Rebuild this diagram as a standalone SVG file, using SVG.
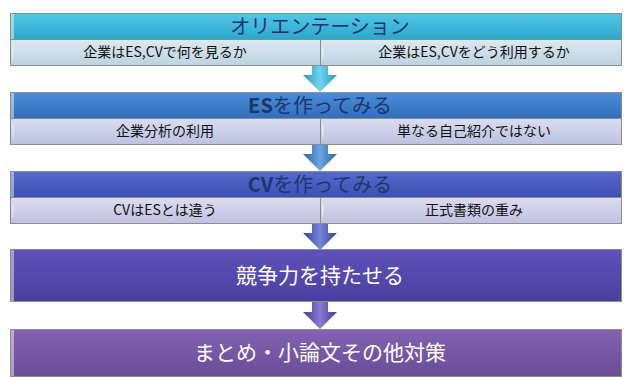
<svg xmlns="http://www.w3.org/2000/svg" width="624" height="378" viewBox="0 0 624 378">
<defs>
<linearGradient id="gCyan" x1="0" y1="0" x2="0" y2="1"><stop offset="0" stop-color="#52C8E6"/><stop offset="1" stop-color="#2BA6CC"/></linearGradient>
<linearGradient id="gBlue" x1="0" y1="0" x2="0" y2="1"><stop offset="0" stop-color="#4B8DD8"/><stop offset="1" stop-color="#316EBA"/></linearGradient>
<linearGradient id="gIndigo" x1="0" y1="0" x2="0" y2="1"><stop offset="0" stop-color="#5769CE"/><stop offset="1" stop-color="#3D4FB0"/></linearGradient>
<linearGradient id="gViolet" x1="0" y1="0" x2="0" y2="1"><stop offset="0" stop-color="#5E52BC"/><stop offset="1" stop-color="#4B3F9E"/></linearGradient>
<linearGradient id="gPurple" x1="0" y1="0" x2="0" y2="1"><stop offset="0" stop-color="#8462B2"/><stop offset="1" stop-color="#6A4C98"/></linearGradient>
<linearGradient id="gSub1" x1="0" y1="0" x2="0" y2="1"><stop offset="0" stop-color="#DCE9F0"/><stop offset="1" stop-color="#BCD3E0"/></linearGradient>
<linearGradient id="gSub2" x1="0" y1="0" x2="0" y2="1"><stop offset="0" stop-color="#DADDF0"/><stop offset="1" stop-color="#BCC1DF"/></linearGradient>
<linearGradient id="gSub3" x1="0" y1="0" x2="0" y2="1"><stop offset="0" stop-color="#DCDCF1"/><stop offset="1" stop-color="#C0C0E0"/></linearGradient>
<linearGradient id="aCyan" x1="0" y1="0" x2="1" y2="0"><stop offset="0" stop-color="#2A98BC"/><stop offset="0.5" stop-color="#6FD4EE"/><stop offset="1" stop-color="#2A98BC"/></linearGradient>
<linearGradient id="aBlue" x1="0" y1="0" x2="1" y2="0"><stop offset="0" stop-color="#2C64A8"/><stop offset="0.5" stop-color="#6AA4E2"/><stop offset="1" stop-color="#2C64A8"/></linearGradient>
<linearGradient id="aIndigo" x1="0" y1="0" x2="1" y2="0"><stop offset="0" stop-color="#3441A0"/><stop offset="0.5" stop-color="#7684DA"/><stop offset="1" stop-color="#3441A0"/></linearGradient>
<linearGradient id="aViolet" x1="0" y1="0" x2="1" y2="0"><stop offset="0" stop-color="#45378F"/><stop offset="0.5" stop-color="#8A7CD4"/><stop offset="1" stop-color="#45378F"/></linearGradient>
<path id="arrow" d="M-8,0 H8 V10 H17 L0,27 L-17,10 H-8 Z"/>
</defs>
<style>
.box{stroke:#8C8C8C;stroke-width:1}
.cell{stroke:#8C8C8C;stroke-width:1}
.hl{fill:#FFFFFF;opacity:0.45}
.ht{font-family:"Noto Sans CJK JP","Noto Sans",sans-serif;font-size:20px;fill:#1E3670;text-anchor:middle}
.st{font-family:"Noto Sans CJK JP","Noto Sans",sans-serif;font-size:14px;fill:#111111;text-anchor:middle}
.wt{font-family:"Noto Sans CJK JP","Noto Sans",sans-serif;font-size:21px;fill:#FFFFFF;text-anchor:middle}
.arr{stroke:none}
</style>
<rect width="624" height="378" fill="#FFFFFF"/>

<g id="connectors">
<use href="#arrow" x="320" y="65" fill="url(#aCyan)" class="arr"/>
<use href="#arrow" x="320" y="144" fill="url(#aBlue)" class="arr"/>
<use href="#arrow" x="320" y="223" fill="url(#aIndigo)" class="arr"/>
<use href="#arrow" x="320" y="302" fill="url(#aViolet)" class="arr"/>
</g>

<g id="node-orientation">
<rect class="box" x="10.5" y="13.5" width="611" height="26" fill="url(#gCyan)"/>
<rect class="hl" x="11" y="14" width="3" height="25"/>
<rect class="cell" x="10.5" y="39.5" width="310" height="26" fill="url(#gSub1)"/>
<rect class="cell" x="320.5" y="39.5" width="301" height="26" fill="url(#gSub1)"/>
<path class="hl" d="M12,43 Q16,52 12,61 Z"/>
<path class="hl" d="M322,43 Q326,52 322,61 Z"/>
<text class="ht" x="320" y="33.5">オリエンテーション</text>
<text class="st" x="165" y="57">企業はES,CVで何を見るか</text>
<text class="st" x="474" y="57">企業はES,CVをどう利用するか</text>
</g>

<g id="node-es">
<rect class="box" x="10.5" y="92.5" width="611" height="26" fill="url(#gBlue)"/>
<rect class="hl" x="11" y="93" width="3" height="25"/>
<rect class="cell" x="10.5" y="118.5" width="310" height="26" fill="url(#gSub2)"/>
<rect class="cell" x="320.5" y="118.5" width="301" height="26" fill="url(#gSub2)"/>
<path class="hl" d="M12,122 Q16,131 12,140 Z"/>
<path class="hl" d="M322,122 Q326,131 322,140 Z"/>
<text class="ht" x="320" y="112.5"><tspan font-weight="bold">ES</tspan>を作ってみる</text>
<text class="st" x="165" y="136">企業分析の利用</text>
<text class="st" x="474" y="136">単なる自己紹介ではない</text>
</g>

<g id="node-cv">
<rect class="box" x="10.5" y="171.5" width="611" height="26" fill="url(#gIndigo)"/>
<rect class="hl" x="11" y="172" width="3" height="25"/>
<rect class="cell" x="10.5" y="197.5" width="310" height="26" fill="url(#gSub3)"/>
<rect class="cell" x="320.5" y="197.5" width="301" height="26" fill="url(#gSub3)"/>
<path class="hl" d="M12,201 Q16,210 12,219 Z"/>
<path class="hl" d="M322,201 Q326,210 322,219 Z"/>
<text class="ht" x="320" y="191.5"><tspan font-weight="bold">CV</tspan>を作ってみる</text>
<text class="st" x="165" y="215">CVはESとは違う</text>
<text class="st" x="474" y="215">正式書類の重み</text>
</g>

<g id="node-competitive">
<rect class="box" x="10.5" y="249.5" width="611" height="52" fill="url(#gViolet)"/>
<rect class="hl" x="11" y="250" width="3" height="51" opacity="0.3"/>
<text class="wt" x="320" y="283">競争力を持たせる</text>
</g>

<g id="node-summary">
<rect class="box" x="10.5" y="329.5" width="611" height="47" fill="url(#gPurple)"/>
<rect class="hl" x="11" y="330" width="3" height="46" opacity="0.3"/>
<text class="wt" x="320" y="360" font-size="18">まとめ・小論文その他対策</text>
</g>
</svg>
